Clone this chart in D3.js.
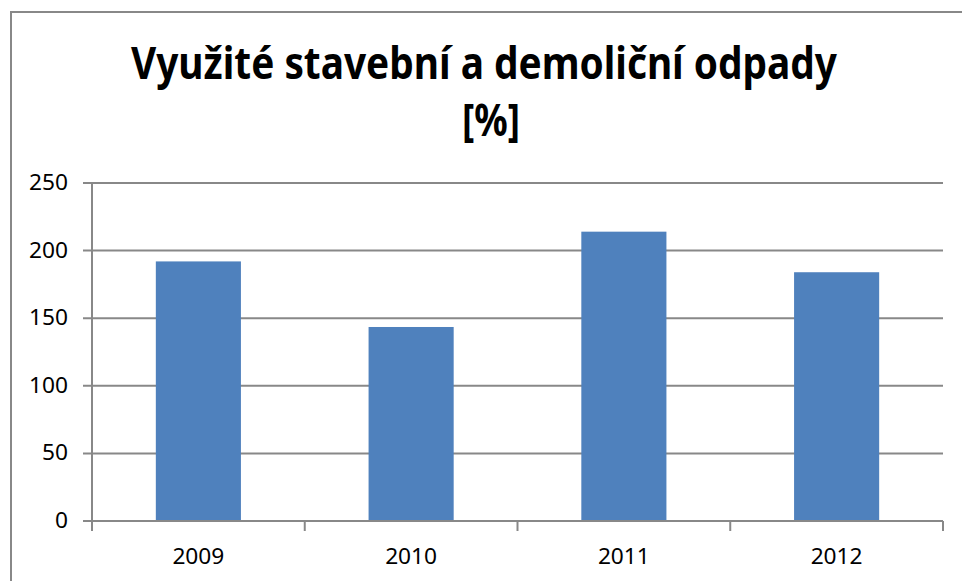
<!DOCTYPE html>
<html>
<head>
<meta charset="utf-8">
<script src="https://cdn.jsdelivr.net/npm/d3@7.9.0/dist/d3.min.js"></script>
<style>
  body { margin: 0; background: #fff; }
  svg { display: block; }
  text { font-family: "Noto Sans", "Open Sans", sans-serif; fill: #000; }
</style>
</head>
<body>
<div id="chart"></div>
<script>
// data
const years = ["2009", "2010", "2011", "2012"];
const values = [192, 143.5, 214, 184];
const yTicks = [0, 50, 100, 150, 200, 250];
const titleLines = ["Využité stavební a demoliční odpady", "[%]"];

const W = 962, H = 581;
const margin = {top: 183, right: 19, bottom: 60, left: 92};

const svg = d3.select("#chart")
    .append("svg")
    .attr("width", W)
    .attr("height", H);

// chart frame (only top and left edges show in the crop)
svg.append("path")
    .attr("d", `M11,${H} V12 H${W}`)
    .attr("fill", "none")
    .attr("stroke", "#888")
    .attr("stroke-width", 2);

// title
svg.append("text")
    .attr("x", 484).attr("y", 79)
    .attr("text-anchor", "middle")
    .attr("font-size", 45)
    .attr("font-weight", "bold")
    .attr("textLength", 706)
    .attr("lengthAdjust", "spacingAndGlyphs")
    .text(titleLines[0]);

svg.append("text")
    .attr("x", 491).attr("y", 136)
    .attr("text-anchor", "middle")
    .attr("font-size", 45)
    .attr("font-weight", "bold")
    .attr("textLength", 58)
    .attr("lengthAdjust", "spacingAndGlyphs")
    .text(titleLines[1]);

const x = d3.scaleBand()
    .domain(years)
    .range([margin.left, W - margin.right]);

const xBar = d3.scaleBand()
    .domain(years)
    .range([margin.left, W - margin.right])
    .paddingInner(0.6)
    .paddingOuter(0.3);

const y = d3.scaleLinear()
    .domain([0, 250])
    .range([H - margin.bottom, margin.top]);

// gridlines + y labels
const grid = svg.append("g");
grid.selectAll("line")
    .data(yTicks)
    .join("line")
    .attr("x1", margin.left - 9)
    .attr("x2", W - margin.right)
    .attr("y1", d => y(d))
    .attr("y2", d => y(d))
    .attr("stroke", "#888")
    .attr("stroke-width", 2);

grid.selectAll("text")
    .data(yTicks)
    .join("text")
    .attr("x", 68)
    .attr("y", d => y(d) + 7)
    .attr("text-anchor", "end")
    .attr("font-size", 21)
    .attr("textLength", d => String(d).length * 13)
    .attr("lengthAdjust", "spacingAndGlyphs")
    .text(d => d);

// y axis line
svg.append("line")
    .attr("x1", margin.left).attr("x2", margin.left)
    .attr("y1", y(250)).attr("y2", y(0) + 10)
    .attr("stroke", "#888")
    .attr("stroke-width", 2);

// bars
svg.append("g")
    .selectAll("rect")
    .data(years)
    .join("rect")
    .attr("x", d => xBar(d))
    .attr("width", xBar.bandwidth())
    .attr("y", (d, i) => y(values[i]))
    .attr("height", (d, i) => y(0) - y(values[i]))
    .attr("fill", "#4F81BD");

// x axis line, ticks at band edges, labels
svg.append("line")
    .attr("x1", margin.left).attr("x2", W - margin.right)
    .attr("y1", y(0)).attr("y2", y(0))
    .attr("stroke", "#888")
    .attr("stroke-width", 2);

svg.append("g")
    .selectAll("line")
    .data(years)
    .join("line")
    .attr("x1", d => x(d) + x.bandwidth())
    .attr("x2", d => x(d) + x.bandwidth())
    .attr("y1", y(0))
    .attr("y2", y(0) + 10)
    .attr("stroke", "#888")
    .attr("stroke-width", 2);

svg.append("g")
    .selectAll("text")
    .data(years)
    .join("text")
    .attr("x", d => x(d) + x.bandwidth() / 2)
    .attr("y", 564)
    .attr("text-anchor", "middle")
    .attr("font-size", 21)
    .attr("textLength", 52)
    .attr("lengthAdjust", "spacingAndGlyphs")
    .text(d => d);
</script>
</body>
</html>
